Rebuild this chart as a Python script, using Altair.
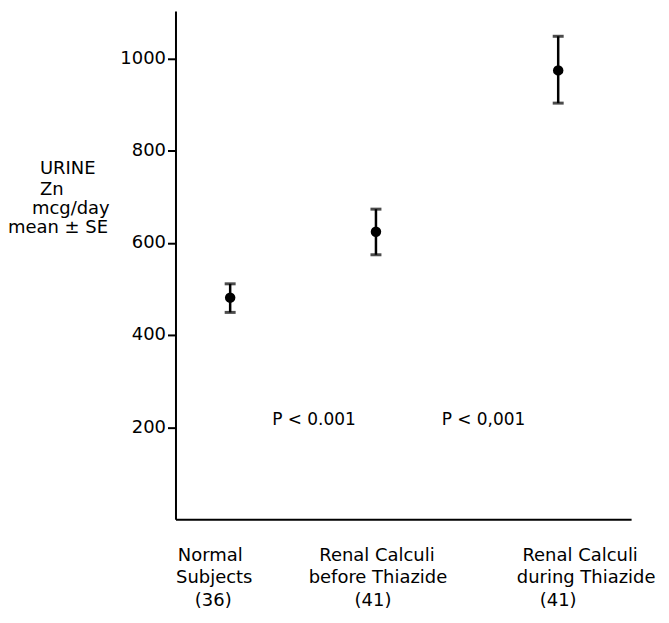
import altair as alt
import pandas as pd

# ---- data ----
groups = ["Normal Subjects (36)", "Renal Calculi before Thiazide (41)", "Renal Calculi during Thiazide (41)"]
group_lines = [["Normal", "Subjects", "(36)"],
               ["Renal Calculi", "before Thiazide", "(41)"],
               ["Renal Calculi", "during Thiazide", "(41)"]]
group_pos = [1.2, 4.4, 8.4]          # position along the (unlabelled) x scale
means = [481, 624, 974]
upper = [511, 673, 1048]
lower = [449, 574, 903]

p_text = ["P < 0.001", "P < 0,001"]
p_pos = [3.04, 6.76]
p_val = [215, 215]

y_ticks = [200, 400, 600, 800, 1000]
y_title = ["URINE", "Zn", "mcg/day", "mean ± SE"]

FONT = "DejaVu Sans"
W, H = 457, 510

df = pd.DataFrame({"group": groups, "x": group_pos, "mean": means, "lo": lower, "hi": upper})

xs = alt.Scale(domain=[0, 10], nice=False)
ys = alt.Scale(domain=[0, 1103], nice=False, zero=True)

xaxis = alt.Axis(labels=False, ticks=False, grid=False, title=None, domainColor="black", domainWidth=2)
yaxis = alt.Axis(values=y_ticks, format="d", grid=False, title=None, domainColor="black", domainWidth=2,
                 tickColor="black", tickWidth=2, tickSize=8, labelFont=FONT, labelFontSize=18,
                 labelColor="black", labelPadding=2)

base = alt.Chart(df)

rule = base.mark_rule(color="black", strokeWidth=2.5).encode(
    x=alt.X("x:Q", scale=xs, axis=xaxis),
    y=alt.Y("lo:Q", scale=ys, axis=yaxis),
    y2="hi:Q",
)
cap_hi = base.mark_tick(orient="horizontal", color="black", size=11, thickness=3).encode(
    x=alt.X("x:Q", scale=xs), y=alt.Y("hi:Q", scale=ys))
cap_lo = base.mark_tick(orient="horizontal", color="black", size=11, thickness=3).encode(
    x=alt.X("x:Q", scale=xs), y=alt.Y("lo:Q", scale=ys))
pts = base.mark_point(filled=True, color="black", size=110, opacity=1, shape="circle").encode(
    x=alt.X("x:Q", scale=xs), y=alt.Y("mean:Q", scale=ys))

pdf = pd.DataFrame({"t": p_text, "x": p_pos, "y": p_val})
ptxt = alt.Chart(pdf).mark_text(font=FONT, fontSize=17, color="black", align="center", baseline="middle").encode(
    x=alt.X("x:Q", scale=xs), y=alt.Y("y:Q", scale=ys), text="t:N")

layers = [rule, cap_hi, cap_lo, pts, ptxt]

# y-axis title lines (left of axis)
ytitle_pos = [(-136, 164), (-136, 185), (-144, 204), (-168, 223)]
for line, (px, py) in zip(y_title, ytitle_pos):
    layers.append(
        alt.Chart(pd.DataFrame({"t": [line]})).mark_text(
            font=FONT, fontSize=18, color="black", align="left", baseline="alphabetic"
        ).encode(text="t:N", x=alt.value(px), y=alt.value(py))
    )

# category labels below the x axis (each line nudged as in the reference)
line_dx = [[-20, -16, -17], [1, 2, -3], [22, 28, 0]]
line_y = [552, 574, 597]
for i, lines in enumerate(group_lines):
    for j, line in enumerate(lines):
        ldf = pd.DataFrame({"t": [line], "x": [group_pos[i]]})
        layers.append(
            alt.Chart(ldf).mark_text(
                font=FONT, fontSize=18, color="black", align="center", baseline="alphabetic",
                dx=line_dx[i][j]
            ).encode(text="t:N", x=alt.X("x:Q", scale=xs), y=alt.value(line_y[j]))
        )

chart = alt.layer(*layers).properties(
    width=W, height=H,
    autosize=alt.AutoSizeParams(type="none"),
    padding={"left": 168, "top": 2, "right": 30, "bottom": 100},
    background="white",
).configure_view(stroke=None)

chart.save("out.html", embed_options={"renderer": "svg", "actions": False})
